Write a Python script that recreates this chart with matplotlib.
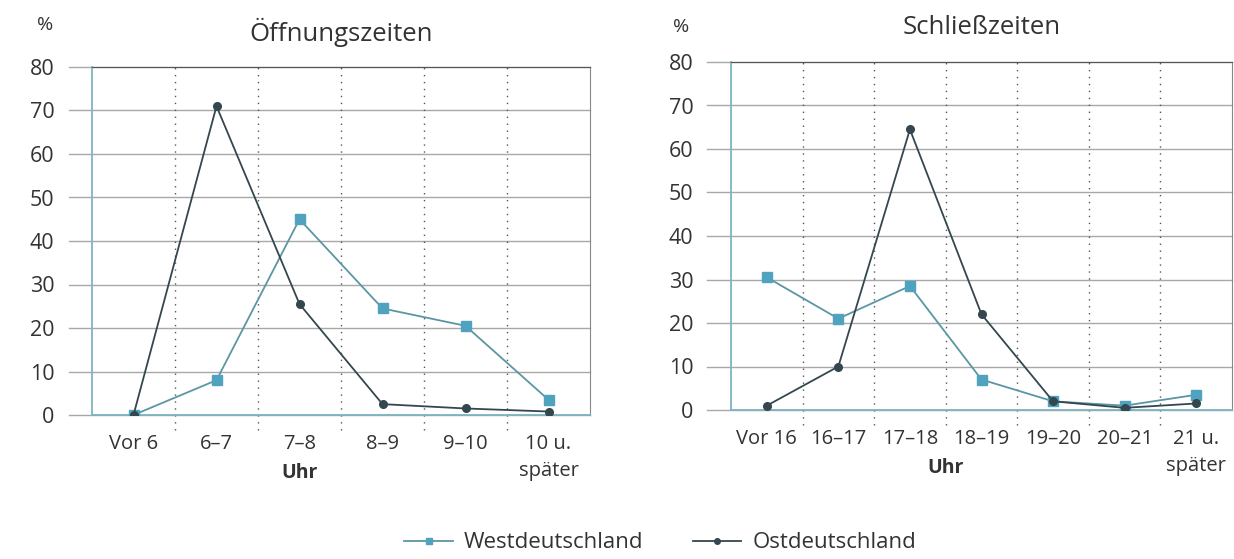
import matplotlib.pyplot as plt
from matplotlib.lines import Line2D

plt.rcParams['font.family'] = ['Open Sans', 'DejaVu Sans']

# Daten
kat_auf = ["Vor 6", "6–7", "7–8", "8–9", "9–10", "10 u.\nspäter"]
west_auf = [0, 8, 45, 24.5, 20.5, 3.5]
ost_auf = [0, 71, 25.5, 2.5, 1.5, 0.8]

kat_zu = ["Vor 16", "16–17", "17–18", "18–19", "19–20", "20–21", "21 u.\nspäter"]
west_zu = [30.5, 21, 28.5, 7, 2, 1, 3.5]
ost_zu = [1, 10, 64.5, 22, 2, 0.5, 1.5]

y_ticks = [0, 10, 20, 30, 40, 50, 60, 70, 80]

c_west = "#4fa3bf"
c_west_line = "#5b96a3"
c_ost = "#34474f"
c_text = "#333333"

fig = plt.figure(figsize=(12.34, 5.59), dpi=100)
ax1 = fig.add_axes([92 / 1234, 1 - 415 / 559, 498 / 1234, 348 / 559])
ax2 = fig.add_axes([731 / 1234, 1 - 410 / 559, 501 / 1234, 348 / 559])


def zeichne(ax, kat, west, ost, titel, uhr_x, prozent_xy):
    n = len(kat)
    x = range(n)
    ax.set_xlim(-0.5, n - 0.5)
    ax.set_ylim(0, 80)
    for y in y_ticks:
        ax.axhline(y, color="#a8a8a8", lw=1.0, zorder=1, clip_on=False,
                   xmin=-0.047, xmax=1)
    for i in range(n - 1):
        ax.plot([i + 0.5, i + 0.5], [-3.5, 80], ls=(0, (1, 4)), color="#555555",
                lw=1.0, clip_on=False, zorder=1)
    ax.plot(x, west, color=c_west_line, lw=1.3, marker="s", ms=6.5,
            mfc=c_west, mec=c_west, zorder=3)
    ax.plot(x, ost, color=c_ost, lw=1.3, marker="o", ms=5.5,
            mfc=c_ost, mec=c_ost, zorder=4)
    ax.set_xticks(list(x))
    ax.set_xticklabels(kat, fontsize=14.5, color=c_text, va="top")
    for t in ax.get_xticklabels():
        t.set_linespacing(1.45)
    ax.set_yticks(y_ticks)
    ax.set_yticklabels([str(v) for v in y_ticks], fontsize=15.5, color=c_text)
    ax.tick_params(axis="x", length=0, pad=14)
    ax.tick_params(axis="y", length=0, pad=27)
    for s in ["left", "bottom"]:
        ax.spines[s].set_color("#7db5c2")
        ax.spines[s].set_linewidth(1.3)
    ax.spines["top"].set_color("#555555")
    ax.spines["right"].set_color("#888888")
    ax.text(uhr_x, -0.168, "Uhr", transform=ax.get_xaxis_transform(),
            ha="center", va="center", fontsize=14, fontweight="bold", color=c_text)
    ax.text(0.5, 1.10, titel, transform=ax.transAxes, ha="center",
            va="center", fontsize=18.5, color=c_text)
    ax.text(prozent_xy[0], prozent_xy[1], "%", transform=ax.transAxes,
            ha="center", va="center", fontsize=14, color=c_text)


zeichne(ax1, kat_auf, west_auf, ost_auf, "Öffnungszeiten", 2, (-0.094, 1.12))
zeichne(ax2, kat_zu, west_zu, ost_zu, "Schließzeiten", 2.5, (-0.10, 1.10))

handles = [
    Line2D([], [], color=c_west_line, lw=1.3, marker="s", ms=5, mfc=c_west, mec=c_west),
    Line2D([], [], color=c_ost, lw=1.3, marker="o", ms=4, mfc=c_ost, mec=c_ost),
]
fig.legend(handles, ["Westdeutschland", "Ostdeutschland"], loc="center",
           bbox_to_anchor=(0.535, 1 - 543 / 559), ncol=2, frameon=False,
           fontsize=16, handlelength=2.2, columnspacing=2.2, handletextpad=0.5,
           labelcolor=c_text)

fig.savefig("out.png", dpi=100, facecolor="white")
